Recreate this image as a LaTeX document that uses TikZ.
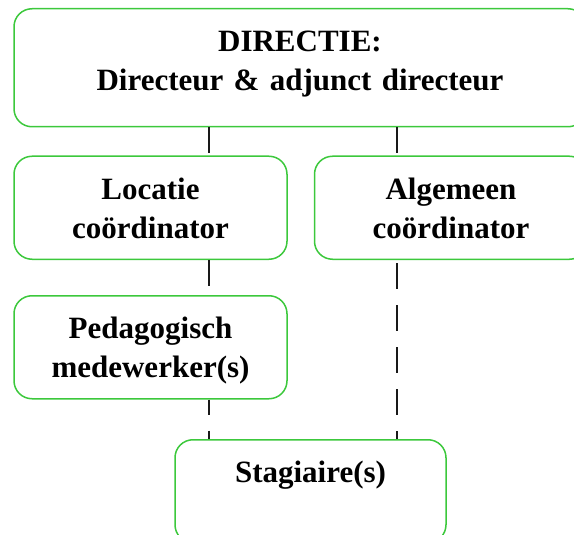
\documentclass[tikz,border=0pt]{standalone}
\usepackage{fontspec}
\setmainfont{Liberation Serif}
\usepackage{tikz}
\usetikzlibrary{positioning}
\definecolor{boxgreen}{RGB}{60,200,60}
\tikzset{orgblock/.style=
   {rectangle,
    draw=boxgreen,
    line width=1.5pt,
    rounded corners=18pt,
    inner sep=0pt,
    text width=273pt,
    align=center,
    text height=43pt,
    text depth=60pt,
    font=\fontsize{31}{39}\selectfont\bfseries}}
\tikzset{link/.style =
   {draw,
    black!90,
    line width=1.3pt,
    dash pattern=on 26pt off 16pt}}

\begin{document}
\begin{tikzpicture}[x=1pt,y=-1pt]

    \useasboundingbox (0,0) rectangle (574,535);
    \clip (0,0) rectangle (574,535);

    \node [orgblock,
           text width=572pt,
           text depth=75pt,
           anchor=north] (dir) at (300,8)
    {DIRECTIE:\\ Directeur \& adjunct directeur};

    \node [orgblock,
           below = 28pt of dir.south west,
           anchor=north west] (loc)
    {Locatie\\ coördinator};

    \node [orgblock,
           right = 26pt of loc] (alg)
    {Algemeen\\ coördinator};

    \node [orgblock,
           below = 35pt of loc] (ped)
    {Pedagogisch\\ medewerker(s)};

    \node [orgblock,
           text width=271pt,
           anchor=north] (stag) at (310.5,439)
    {Stagiaire(s)\\ \strut};

    \coordinate (lx) at (209,0);
    \coordinate (rx) at (397,0);

    \draw [link] (dir.south -| lx) -- (loc.north -| lx);
    \draw [link] (dir.south -| rx) -- (alg.north -| rx);
    \draw [link] (loc.south -| lx) -- (ped.north -| lx);
    \draw [link, dash phase=11pt] (ped.south -| lx) -- (stag.north -| lx);
    \draw [link, dash phase=39pt] (alg.south -| rx) -- (stag.north -| rx);

\end{tikzpicture}
\end{document}
